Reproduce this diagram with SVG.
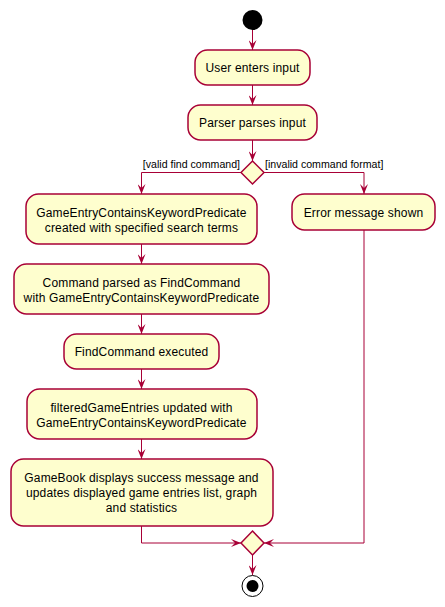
<svg xmlns="http://www.w3.org/2000/svg" width="445" height="607" viewBox="0 0 445 607">
<defs>
<style>
.box{fill:#FEFECE;stroke:#A80036;stroke-width:1.5}
.t{font-family:"Liberation Sans",Arial,sans-serif;font-size:12px;letter-spacing:0.15px;fill:#000;text-anchor:middle}
.lbl{font-family:"Liberation Sans",Arial,sans-serif;font-size:10.6px;fill:#000}
.c{fill:none;stroke:#A80036;stroke-width:1}
</style>
<marker id="ah" viewBox="0 0 10 8" refX="10" refY="4" markerWidth="10" markerHeight="8" markerUnits="userSpaceOnUse" orient="auto">
<path d="M0,0 L10,4 L0,8 L4,4 Z" fill="#A80036"/>
</marker>
</defs>
<rect width="445" height="607" fill="#FFFFFF"/>
<g id="connectors">
<path class="c" d="M252.5,30 V50" marker-end="url(#ah)"/>
<path class="c" d="M252.5,85 V105" marker-end="url(#ah)"/>
<path class="c" d="M252.5,140 V161" marker-end="url(#ah)"/>
<path class="c" d="M241,172.5 H141.5 V194" marker-end="url(#ah)"/>
<path class="c" d="M264,172.5 H364 V194" marker-end="url(#ah)"/>
<path class="c" d="M141.5,244 V264" marker-end="url(#ah)"/>
<path class="c" d="M141.5,314 V334" marker-end="url(#ah)"/>
<path class="c" d="M141.5,369 V389" marker-end="url(#ah)"/>
<path class="c" d="M141.5,439 V459" marker-end="url(#ah)"/>
<path class="c" d="M141.5,526 V543 H241" marker-end="url(#ah)"/>
<path class="c" d="M364,230 V543 H264" marker-end="url(#ah)"/>
<path class="c" d="M252.5,555 V575" marker-end="url(#ah)"/>
<text class="lbl" x="240" y="168" text-anchor="end">[valid find command]</text>
<text class="lbl" x="265" y="168">[invalid command format]</text>
</g>
<g id="start"><circle cx="252.5" cy="20" r="10" fill="#000"/></g>
<g id="n1"><rect class="box" x="195" y="50" width="115" height="35" rx="12.5"/><text class="t" x="252.5" y="72">User enters input</text></g>
<g id="n2"><rect class="box" x="188" y="105" width="129" height="35" rx="12.5"/><text class="t" x="252.5" y="127">Parser parses input</text></g>
<g id="d1"><polygon class="box" points="252.5,161 264,172.5 252.5,184 241,172.5"/></g>
<g id="n3"><rect class="box" x="26" y="194" width="231" height="50" rx="12.5"/><text class="t" x="141.5" y="217">GameEntryContainsKeywordPredicate</text><text class="t" x="141.5" y="232">created with specified search terms</text></g>
<g id="nerr"><rect class="box" x="292" y="194" width="143" height="36" rx="12.5"/><text class="t" x="363.5" y="217">Error message shown</text></g>
<g id="n4"><rect class="box" x="14" y="264" width="255" height="50" rx="12.5"/><text class="t" x="141.5" y="287">Command parsed as FindCommand</text><text class="t" x="141.5" y="302">with GameEntryContainsKeywordPredicate</text></g>
<g id="n5"><rect class="box" x="64" y="334" width="155" height="35" rx="12.5"/><text class="t" x="141.5" y="356">FindCommand executed</text></g>
<g id="n6"><rect class="box" x="27" y="389" width="230" height="50" rx="12.5"/><text class="t" x="141.5" y="412">filteredGameEntries updated with</text><text class="t" x="141.5" y="427">GameEntryContainsKeywordPredicate</text></g>
<g id="n7"><rect class="box" x="11" y="459" width="262" height="67" rx="12.5"/><text class="t" x="141.5" y="482">GameBook displays success message and</text><text class="t" x="141.5" y="497">updates displayed game entries list, graph</text><text class="t" x="141.5" y="512">and statistics</text></g>
<g id="d2"><polygon class="box" points="252.5,531 264,543 252.5,555 241,543"/></g>
<g id="end"><circle cx="252.5" cy="586" r="10.5" fill="none" stroke="#000" stroke-width="1"/><circle cx="252.5" cy="586" r="6" fill="#000"/></g>
</svg>
